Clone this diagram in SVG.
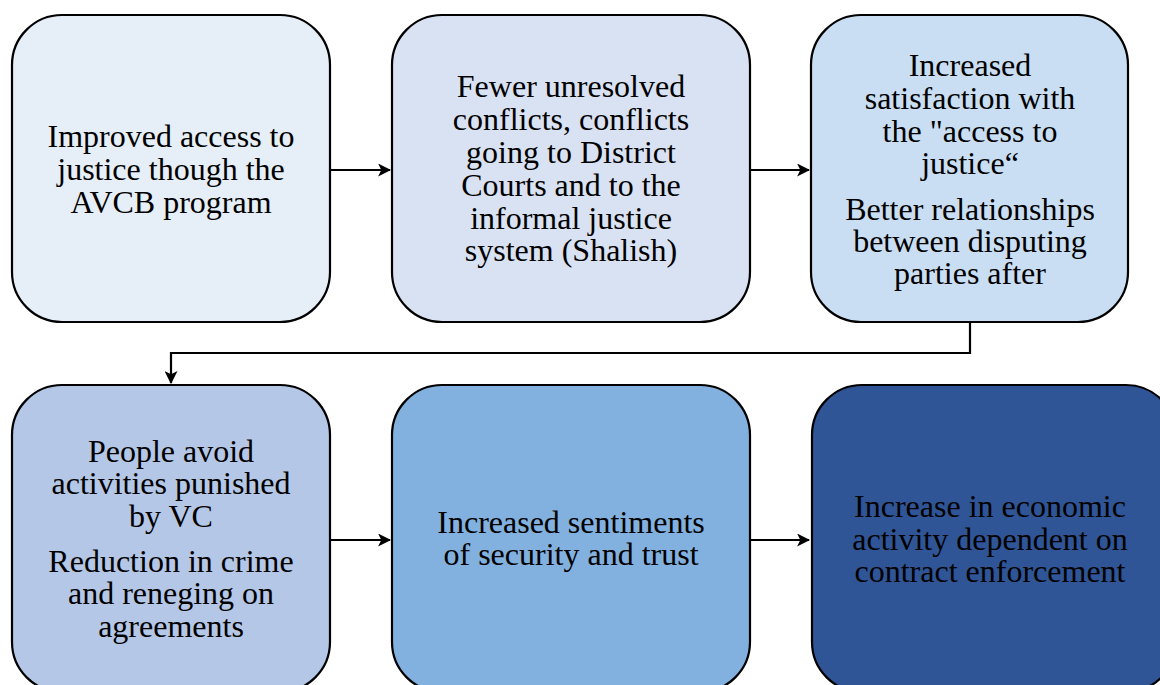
<svg xmlns="http://www.w3.org/2000/svg" width="1160" height="685" viewBox="0 0 1160 685">
<style>
.box{stroke:#000;stroke-width:2.2}
.t{font-family:"Liberation Serif","Times New Roman",serif;font-size:32px;fill:#000;text-anchor:middle}
.c{fill:none;stroke:#000;stroke-width:2.2}
</style>
<defs>
<marker id="ah" viewBox="0 0 12 12" refX="11" refY="6" markerWidth="13" markerHeight="13" markerUnits="userSpaceOnUse" orient="auto">
<path d="M0,0 L12,6 L0,12 L3,6 Z" fill="#000"/>
</marker>
</defs>
<rect width="1160" height="685" fill="#fff"/>
<g id="connectors">
<path class="c" d="M330,170 H390" marker-end="url(#ah)"/>
<path class="c" d="M750,170 H809" marker-end="url(#ah)"/>
<path class="c" d="M970,322 V353 H171 V383" marker-end="url(#ah)"/>
<path class="c" d="M330,540 H390" marker-end="url(#ah)"/>
<path class="c" d="M750,540 H809" marker-end="url(#ah)"/>
</g>
<g id="n1">
<rect class="box" x="12" y="15" width="318" height="307" rx="50" fill="#E6EEF8"/>
<text class="t" x="171" y="147">Improved access to</text>
<text class="t" x="171" y="180">justice though the</text>
<text class="t" x="171" y="213">AVCB program</text>
</g>
<g id="n2">
<rect class="box" x="392" y="15" width="358" height="307" rx="50" fill="#D9E2F3"/>
<text class="t" x="571" y="97">Fewer unresolved</text>
<text class="t" x="571" y="130">conflicts, conflicts</text>
<text class="t" x="571" y="163">going to District</text>
<text class="t" x="571" y="196">Courts and to the</text>
<text class="t" x="571" y="229">informal justice</text>
<text class="t" x="571" y="261">system (Shalish)</text>
</g>
<g id="n3">
<rect class="box" x="811" y="15" width="317" height="307" rx="50" fill="#C9DEF2"/>
<text class="t" x="970" y="76">Increased</text>
<text class="t" x="970" y="109">satisfaction with</text>
<text class="t" x="970" y="142">the "access to</text>
<text class="t" x="970" y="174">justice“</text>
<text class="t" x="970" y="220">Better relationships</text>
<text class="t" x="970" y="252">between disputing</text>
<text class="t" x="970" y="284">parties after</text>
</g>
<g id="n4">
<rect class="box" x="12" y="385" width="318" height="307" rx="50" fill="#B4C7E7"/>
<text class="t" x="171" y="462">People avoid</text>
<text class="t" x="171" y="494">activities punished</text>
<text class="t" x="171" y="527">by VC</text>
<text class="t" x="171" y="572">Reduction in crime</text>
<text class="t" x="171" y="604">and reneging on</text>
<text class="t" x="171" y="637">agreements</text>
</g>
<g id="n5">
<rect class="box" x="392" y="385" width="358" height="307" rx="50" fill="#82B1DF"/>
<text class="t" x="571" y="533">Increased sentiments</text>
<text class="t" x="571" y="565">of security and trust</text>
</g>
<g id="n6">
<rect class="box" x="812" y="385" width="364" height="307" rx="50" fill="#2F5597"/>
<text class="t" x="990" y="517">Increase in economic</text>
<text class="t" x="990" y="550">activity dependent on</text>
<text class="t" x="990" y="582">contract enforcement</text>
</g>
</svg>
